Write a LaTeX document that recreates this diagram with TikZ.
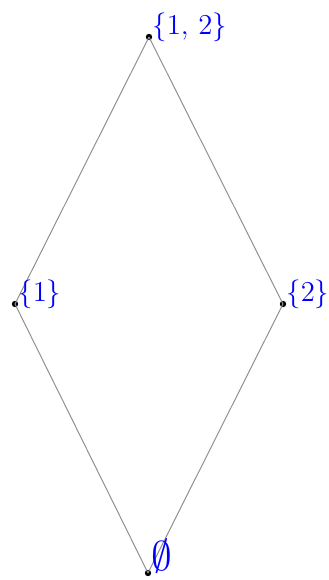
\documentclass[tikz,border=0pt]{standalone}
\usepackage{amssymb}
\begin{document}
\begin{tikzpicture}[x=0.5pt,y=-0.5pt]
    \definecolor{labelColour}{HTML}{0000FF}
    \definecolor{edgeColour}{HTML}{909090}

    \tikzset{
        elt/.style={circle, fill=black, inner sep=0pt, minimum size=3.2pt},
        eltlabel/.style={anchor=base west, text=labelColour, inner sep=0.5pt,
            font=\fontsize{15.5}{18}\selectfont},
        edge/.style={draw=edgeColour, line width=0.5pt}
    }

    \useasboundingbox (0,0) rectangle (328,580);

    % Elements of the lattice
    \node[elt] (top) at (149,37) {};
    \node[elt] (one) at (15,304) {};
    \node[elt] (two) at (283,304) {};
    \node[elt] (bot) at (148,573) {};

    % Cover relations
    \draw[edge] (bot.center) -- (one.center);
    \draw[edge] (bot.center) -- (two.center);
    \draw[edge] (one.center) -- (top.center);
    \draw[edge] (two.center) -- (top.center);

    % Labels
    \node[eltlabel] (toplabel) at ([shift={(2,-3)}]top.center) {$\{1,\,2\}$};
    \node[eltlabel] (onelabel) at ([shift={(2,-3)}]one.center) {$\{1\}$};
    \node[eltlabel] (twolabel) at ([shift={(2,-3)}]two.center) {$\{2\}$};
    \node[eltlabel, font=\fontsize{21}{24}\selectfont] (botlabel) at ([shift={(2,-3)}]bot.center) {$\emptyset$};

\end{tikzpicture}
\end{document}
